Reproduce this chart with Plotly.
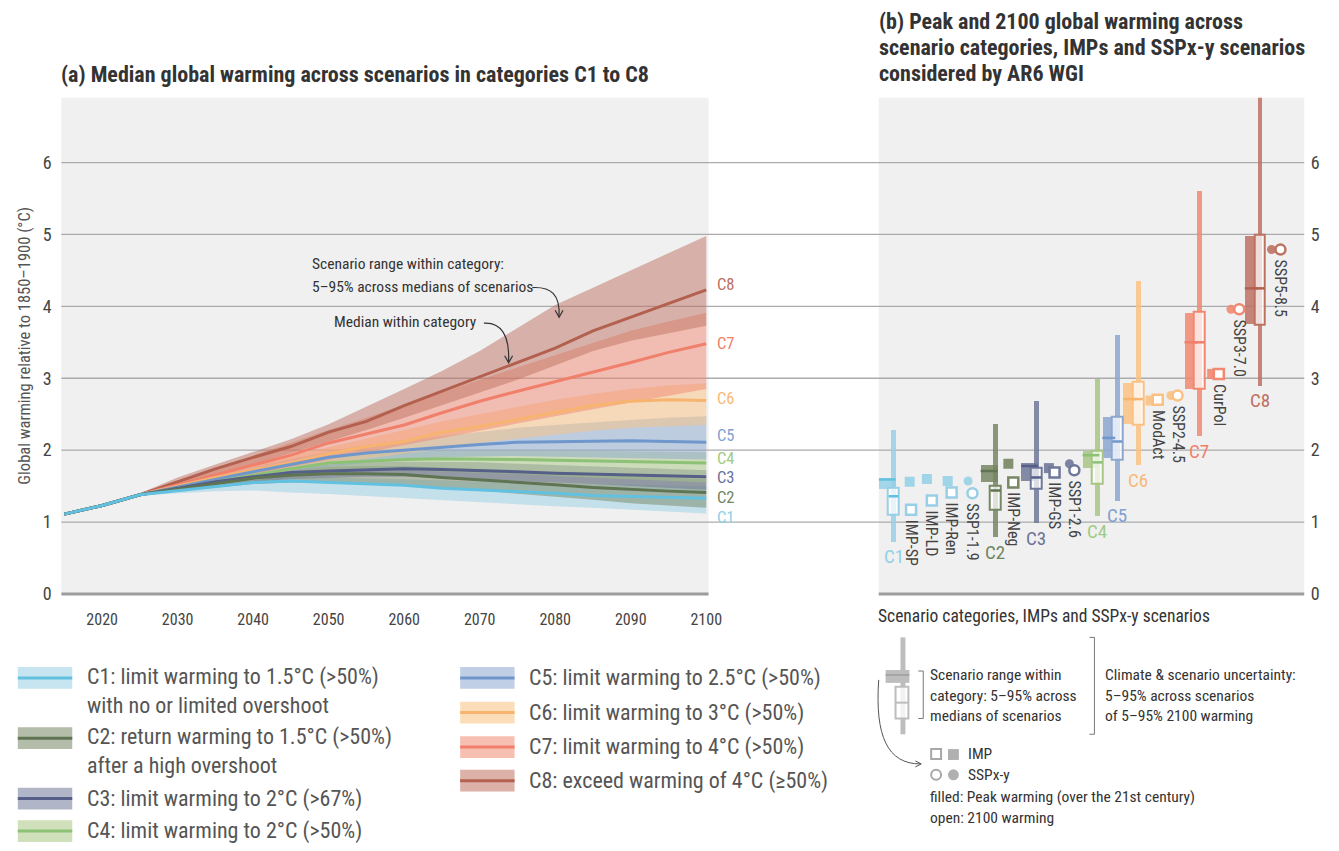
"""Median global warming by scenario category, and peak / 2100 warming ranges."""

import plotly.graph_objects as go

W, H = 1339, 851
FONT = "Roboto Condensed, Liberation Sans Narrow, Roboto, sans-serif"

# ---------------- panel (a): medians and 5-95% ranges per category ----------------
years = [2015, 2020, 2025, 2030, 2035, 2040, 2045, 2050, 2055, 2060,
         2065, 2070, 2075, 2080, 2085, 2090, 2095, 2100]

c1_med = [1.11, 1.23, 1.38, 1.44, 1.50, 1.55, 1.57, 1.55, 1.53, 1.51, 1.47, 1.45, 1.43, 1.40, 1.37, 1.36, 1.35, 1.33]
c1_lo = [1.11, 1.23, 1.37, 1.40, 1.43, 1.44, 1.41, 1.39, 1.37, 1.34, 1.30, 1.27, 1.25, 1.22, 1.20, 1.17, 1.15, 1.12]
c1_hi = [1.11, 1.23, 1.39, 1.47, 1.55, 1.60, 1.62, 1.62, 1.61, 1.60, 1.58, 1.56, 1.55, 1.53, 1.52, 1.51, 1.50, 1.50]

c2_med = [1.11, 1.23, 1.38, 1.46, 1.54, 1.61, 1.65, 1.67, 1.67, 1.66, 1.62, 1.59, 1.55, 1.52, 1.48, 1.45, 1.43, 1.41]
c2_lo = [1.11, 1.23, 1.37, 1.42, 1.48, 1.53, 1.55, 1.56, 1.54, 1.52, 1.48, 1.44, 1.40, 1.35, 1.31, 1.26, 1.23, 1.20]
c2_hi = [1.11, 1.23, 1.39, 1.50, 1.60, 1.68, 1.73, 1.77, 1.78, 1.78, 1.76, 1.74, 1.71, 1.68, 1.66, 1.63, 1.61, 1.60]

c3_med = [1.11, 1.23, 1.38, 1.47, 1.56, 1.63, 1.69, 1.71, 1.73, 1.74, 1.73, 1.72, 1.70, 1.68, 1.67, 1.65, 1.64, 1.63]
c3_lo = [1.11, 1.23, 1.37, 1.43, 1.50, 1.56, 1.60, 1.62, 1.63, 1.63, 1.62, 1.60, 1.58, 1.55, 1.53, 1.50, 1.47, 1.45]
c3_hi = [1.11, 1.23, 1.39, 1.51, 1.61, 1.70, 1.76, 1.80, 1.83, 1.84, 1.84, 1.83, 1.81, 1.79, 1.77, 1.75, 1.73, 1.72]

c4_med = [1.11, 1.23, 1.38, 1.47, 1.57, 1.66, 1.74, 1.82, 1.85, 1.87, 1.88, 1.88, 1.87, 1.86, 1.85, 1.84, 1.83, 1.82]
c4_lo = [1.11, 1.23, 1.37, 1.43, 1.51, 1.58, 1.65, 1.70, 1.72, 1.72, 1.71, 1.69, 1.67, 1.64, 1.62, 1.59, 1.57, 1.55]
c4_hi = [1.11, 1.23, 1.39, 1.51, 1.62, 1.73, 1.83, 1.92, 1.96, 1.98, 1.99, 2.00, 2.00, 1.99, 1.99, 1.98, 1.97, 1.97]

c5_med = [1.11, 1.23, 1.38, 1.49, 1.60, 1.70, 1.80, 1.90, 1.96, 2.00, 2.05, 2.08, 2.11, 2.12, 2.13, 2.13, 2.12, 2.11]
c5_lo = [1.11, 1.23, 1.37, 1.45, 1.54, 1.62, 1.70, 1.78, 1.83, 1.87, 1.90, 1.91, 1.92, 1.91, 1.90, 1.89, 1.88, 1.87]
c5_hi = [1.11, 1.23, 1.39, 1.53, 1.65, 1.77, 1.88, 1.98, 2.07, 2.14, 2.20, 2.26, 2.31, 2.35, 2.39, 2.42, 2.45, 2.47]

c6_med = [1.11, 1.23, 1.38, 1.50, 1.62, 1.72, 1.82, 1.95, 2.05, 2.12, 2.25, 2.33, 2.43, 2.53, 2.62, 2.68, 2.70, 2.69]
c6_lo = [1.11, 1.23, 1.36, 1.45, 1.55, 1.63, 1.72, 1.80, 1.88, 1.95, 2.03, 2.10, 2.16, 2.22, 2.27, 2.31, 2.33, 2.35]
c6_hi = [1.11, 1.23, 1.39, 1.54, 1.68, 1.80, 1.92, 2.05, 2.17, 2.28, 2.40, 2.50, 2.60, 2.70, 2.78, 2.85, 2.90, 2.93]

c7_med = [1.11, 1.23, 1.38, 1.52, 1.66, 1.80, 1.93, 2.10, 2.22, 2.35, 2.52, 2.68, 2.82, 2.95, 3.08, 3.22, 3.36, 3.48]
c7_lo = [1.11, 1.23, 1.37, 1.48, 1.58, 1.68, 1.78, 1.88, 1.98, 2.07, 2.17, 2.27, 2.37, 2.47, 2.57, 2.67, 2.76, 2.85]
c7_hi = [1.11, 1.23, 1.39, 1.57, 1.74, 1.92, 2.10, 2.28, 2.45, 2.62, 2.80, 2.98, 3.15, 3.33, 3.50, 3.66, 3.79, 3.91]

c8_med = [1.11, 1.23, 1.38, 1.56, 1.74, 1.90, 2.05, 2.25, 2.40, 2.62, 2.82, 3.02, 3.22, 3.42, 3.66, 3.85, 4.05, 4.23]
c8_lo = [1.11, 1.23, 1.37, 1.50, 1.66, 1.80, 1.95, 2.12, 2.28, 2.45, 2.62, 2.80, 2.98, 3.18, 3.38, 3.52, 3.63, 3.73]
c8_hi = [1.11, 1.23, 1.40, 1.62, 1.80, 1.97, 2.15, 2.36, 2.60, 2.85, 3.10, 3.38, 3.70, 4.02, 4.26, 4.50, 4.74, 4.98]

categories = ["C1", "C2", "C3", "C4", "C5", "C6", "C7", "C8"]
medians = [c1_med, c2_med, c3_med, c4_med, c5_med, c6_med, c7_med, c8_med]
lows = [c1_lo, c2_lo, c3_lo, c4_lo, c5_lo, c6_lo, c7_lo, c8_lo]
highs = [c1_hi, c2_hi, c3_hi, c4_hi, c5_hi, c6_hi, c7_hi, c8_hi]

legend_text = [
    "C1: limit warming to 1.5°C (>50%)<br>with no or limited overshoot",
    "C2: return warming to 1.5°C (>50%)<br>after a high overshoot",
    "C3: limit warming to 2°C (>67%)",
    "C4: limit warming to 2°C (>50%)",
    "C5: limit warming to 2.5°C (>50%)",
    "C6: limit warming to 3°C (>50%)",
    "C7: limit warming to 4°C (>50%)",
    "C8: exceed warming of 4°C (≥50%)",
]

# ---------------- panel (b): peak and 2100 warming ----------------
whisker_lo = [0.73, 0.79, 0.99, 1.09, 1.30, 1.79, 2.20, 2.90]
whisker_hi = [2.28, 2.37, 2.69, 2.99, 3.61, 4.36, 5.61, 7.40]
peak_lo = [1.46, 1.56, 1.57, 1.75, 1.89, 2.37, 2.85, 3.75]
peak_med = [1.59, 1.71, 1.78, 1.93, 2.17, 2.71, 3.50, 4.25]
peak_hi = [1.62, 1.80, 1.83, 1.99, 2.46, 2.94, 3.91, 4.98]
end_lo = [1.10, 1.17, 1.46, 1.53, 1.86, 2.35, 2.85, 3.74]
end_med = [1.36, 1.44, 1.62, 1.83, 2.12, 2.71, 3.50, 4.25]
end_hi = [1.48, 1.50, 1.75, 1.99, 2.47, 2.95, 3.92, 5.00]

pathways = ["IMP-SP", "IMP-LD", "IMP-Ren", "SSP1-1.9", "IMP-Neg", "IMP-GS",
            "SSP1-2.6", "ModAct", "SSP2-4.5", "CurPol", "SSP3-7.0", "SSP5-8.5"]
pathway_cat = ["C1", "C1", "C1", "C1", "C2", "C3", "C3", "C6", "C6", "C7", "C7", "C8"]
pathway_peak = [1.56, 1.60, 1.57, 1.57, 1.81, 1.75, 1.81, 2.69, 2.76, 3.06, 3.96, 4.79]
pathway_2100 = [1.17, 1.30, 1.41, 1.40, 1.55, 1.69, 1.72, 2.70, 2.76, 3.06, 3.96, 4.79]

# ---------------- styling ----------------
BASE = {"C1": (151, 208, 230), "C2": (119, 134, 99), "C3": (111, 120, 153), "C4": (167, 198, 130),
        "C5": (140, 167, 208), "C6": (250, 193, 130), "C7": (241, 136, 114), "C8": (189, 113, 97)}
LINE = {"C1": "#62c0e0", "C2": "#5f7452", "C3": "#565f88", "C4": "#8cc176",
        "C5": "#6f97cc", "C6": "#f7b46e", "C7": "#f07f6b", "C8": "#b3604f"}
LABEL = {"C1": "#8dd0e8", "C2": "#6f8460", "C3": "#6a7398", "C4": "#9fcb82",
         "C5": "#7f9fd2", "C6": "#f9b878", "C7": "#f0806a", "C8": "#bd6f5f"}


def rgba(cat, a):
    r, g, b = BASE[cat]
    return f"rgba({r},{g},{b},{a})"


def px(x):
    return x / W


def py(y):
    return 1 - y / H


# layout positions for panel (b) (units = pixels from the panel's left edge)
cat_pos = [15, 118, 159, 221, 241, 262, 324, 385]
peak_box_w = [17, 17, 17, 17, 13, 13, 13, 13]
path_open_x = [32.7, 53.7, 73.7, 94.7, 136, 177.7, 197.7, 282, 302, 343.7, 364.3, 406]
path_fill_x = [31.3, 48.7, 69.7, 90.3, 131, 172, 192.7, 274.7, 295.3, 337, 356, 397]
label_y_a = [1.065, 1.34, 1.615, 1.89, 2.20, 2.72, 3.49, 4.30]

fig = go.Figure()

# panel (a) bands then medians
for cat, lo, hi in zip(categories, lows, highs):
    fig.add_trace(go.Scatter(
        x=years + years[::-1], y=hi + lo[::-1], fill="toself",
        fillcolor=rgba(cat, 0.5), line=dict(width=0), mode="lines",
        hoverinfo="skip", showlegend=False,
    ))
for cat, med in reversed(list(zip(categories, medians))):
    fig.add_trace(go.Scatter(
        x=years, y=med, mode="lines", name=cat,
        line=dict(color=LINE[cat], width=3), showlegend=False,
    ))

# panel (b) whiskers and boxes
fig.add_trace(go.Bar(
    x=cat_pos, base=whisker_lo, y=[h - l for l, h in zip(whisker_lo, whisker_hi)],
    width=5, marker=dict(color=[rgba(c, 0.85) for c in categories], line=dict(width=0)),
    xaxis="x2", yaxis="y2", showlegend=False,
))
peak_x = [p - 15 + w / 2 for p, w in zip(cat_pos, peak_box_w)]
fig.add_trace(go.Bar(
    x=peak_x, base=peak_lo, y=[h - l for l, h in zip(peak_lo, peak_hi)],
    width=peak_box_w, marker=dict(color=[rgba(c, 0.85) for c in categories], line=dict(width=0)),
    xaxis="x2", yaxis="y2", showlegend=False,
))
fig.add_trace(go.Bar(
    x=cat_pos, base=end_lo, y=[h - l for l, h in zip(end_lo, end_hi)],
    width=11, marker=dict(color="rgba(255,255,255,0.72)",
                          line=dict(color=[rgba(c, 1) for c in categories], width=2)),
    xaxis="x2", yaxis="y2", showlegend=False,
))
for i, cat in enumerate(categories):
    x0 = cat_pos[i] - 15
    x1 = x0 + peak_box_w[i]
    fig.add_trace(go.Scatter(
        x=[x0, x1, None, cat_pos[i] - 5, cat_pos[i] + 5],
        y=[peak_med[i], peak_med[i], None, end_med[i], end_med[i]],
        mode="lines", line=dict(color=LINE[cat], width=2.5),
        xaxis="x2", yaxis="y2", showlegend=False, hoverinfo="skip",
    ))

# IMP / SSP markers
for i, name in enumerate(pathways):
    cat = pathway_cat[i]
    sym = "circle" if name.startswith("SSP") else "square"
    fig.add_trace(go.Scatter(
        x=[path_fill_x[i]], y=[pathway_peak[i]], mode="markers",
        marker=dict(symbol=sym, size=10 if sym == "square" else 9, color=rgba(cat, 0.9)),
        xaxis="x2", yaxis="y2", showlegend=False,
    ))
    fig.add_trace(go.Scatter(
        x=[path_open_x[i]], y=[pathway_2100[i]], mode="markers",
        marker=dict(symbol=sym, size=10, color="white", line=dict(color=rgba(cat, 1), width=2.5)),
        xaxis="x2", yaxis="y2", showlegend=False,
    ))

# ---------------- shapes ----------------
shapes = []
for x0, x1 in ((62, 716), (888, 1318)):
    shapes.append(dict(type="rect", xref="paper", yref="paper", x0=px(x0), x1=px(x1),
                       y0=py(601), y1=py(99), fillcolor="#f0f0f0", line=dict(width=0), layer="below"))
for v in range(1, 7):
    shapes.append(dict(type="line", xref="paper", yref="y", x0=px(62), x1=px(1318), y0=v, y1=v,
                       line=dict(color="#ababab", width=1.3), layer="below"))
for x0, x1 in ((62, 716), (888, 1318)):
    shapes.append(dict(type="line", xref="paper", yref="paper", x0=px(x0), x1=px(x1),
                       y0=py(601), y1=py(601), line=dict(color="#9c9c9c", width=3)))


def path(points):
    return "M " + " L ".join(f"{px(x)},{py(y)}" for x, y in points)


def curve(p0, c1, c2, p1):
    return (f"M {px(p0[0])},{py(p0[1])} C {px(c1[0])},{py(c1[1])} "
            f"{px(c2[0])},{py(c2[1])} {px(p1[0])},{py(p1[1])}")


arrow_style = dict(color="#333", width=1.2)
shapes += [
    dict(type="path", xref="paper", yref="paper", path=curve((538, 291), (557, 290), (566, 298), (565, 320)), line=arrow_style),
    dict(type="path", xref="paper", yref="paper", path=path([(561, 314), (565, 321), (569, 314)]), line=arrow_style),
    dict(type="path", xref="paper", yref="paper", path=curve((489, 327), (507, 326), (515, 340), (514, 366)), line=arrow_style),
    dict(type="path", xref="paper", yref="paper", path=path([(510, 360), (514, 367), (518, 360)]), line=arrow_style),
]

# legend swatches (panel a)
swatch_rows = [(18, 686), (18, 747), (18, 808), (18, 841), (465, 686), (465, 721), (465, 756), (465, 790)]
for cat, (sx, sy) in zip(categories, swatch_rows):
    shapes.append(dict(type="rect", xref="paper", yref="paper", x0=px(sx), x1=px(sx + 55),
                       y0=py(sy + 11), y1=py(sy - 11), fillcolor=rgba(cat, 0.55), line=dict(width=0)))
    shapes.append(dict(type="line", xref="paper", yref="paper", x0=px(sx), x1=px(sx + 55),
                       y0=py(sy), y1=py(sy), line=dict(color=LINE[cat], width=3)))

# schematic key (panel b)
g = "#bdbdbd"
shapes += [
    dict(type="rect", xref="paper", yref="paper", x0=px(910), x1=px(915), y0=py(743), y1=py(645), fillcolor=g, line=dict(width=0)),
    dict(type="rect", xref="paper", yref="paper", x0=px(895), x1=px(919), y0=py(691), y1=py(678), fillcolor=g, line=dict(width=0)),
    dict(type="line", xref="paper", yref="paper", x0=px(895), x1=px(919), y0=py(683), y1=py(683), line=dict(color="#a5a5a5", width=2)),
    dict(type="rect", xref="paper", yref="paper", x0=px(905), x1=px(918), y0=py(727), y1=py(695), fillcolor="rgba(255,255,255,0.8)", line=dict(color=g, width=2)),
    dict(type="line", xref="paper", yref="paper", x0=px(905), x1=px(918), y0=py(711), y1=py(711), line=dict(color=g, width=2)),
    dict(type="path", xref="paper", yref="paper", path=path([(928, 679), (933, 679), (933, 727), (928, 727)]), line=dict(color="#777", width=1)),
    dict(type="path", xref="paper", yref="paper", path=path([(1101, 645), (1106, 645), (1106, 743), (1101, 743)]), line=dict(color="#777", width=1)),
    dict(type="path", xref="paper", yref="paper", path=curve((888, 688), (884, 745), (897, 773), (930, 773)), line=dict(color="#555", width=1)),
    dict(type="path", xref="paper", yref="paper", path=path([(925, 770), (931, 773), (925, 776)]), line=dict(color="#555", width=1)),
    dict(type="rect", xref="paper", yref="paper", x0=px(941), x1=px(951), y0=py(768), y1=py(758), fillcolor="white", line=dict(color="#a8a8a8", width=2)),
    dict(type="rect", xref="paper", yref="paper", x0=px(958), x1=px(969), y0=py(769), y1=py(758), fillcolor="#b0b0b0", line=dict(width=0)),
    dict(type="circle", xref="paper", yref="paper", x0=px(941), x1=px(951), y0=py(789), y1=py(779), fillcolor="white", line=dict(color="#a8a8a8", width=2)),
    dict(type="circle", xref="paper", yref="paper", x0=px(958), x1=px(969), y0=py(789.5), y1=py(778.5), fillcolor="#b0b0b0", line=dict(width=0)),
]

# ---------------- annotations ----------------
ann = []


def text(x, y, s, size=15, color="#444", xanchor="left", yanchor="middle", **kw):
    ann.append(dict(x=px(x), y=py(y), xref="paper", yref="paper", text=s, showarrow=False,
                    xanchor=xanchor, yanchor=yanchor, align="left",
                    font=dict(family=FONT, size=size, color=color), **kw))


text(60, 75, "<b>(a) Median global warming across scenarios in categories C1 to C8</b>", size=22, color="#333")
text(886, 22, "<b>(b) Peak and 2100 global warming across</b>", size=22, color="#333")
text(886, 48, "<b>scenario categories, IMPs and SSPx-y scenarios</b>", size=22, color="#333")
text(886, 74, "<b>considered by AR6 WGI</b>", size=22, color="#333")

text(313, 267, "Scenario range within category:", size=15.5, color="#333")
text(313, 290, "5–95% across medians of scenarios", size=15.5, color="#333")
text(336, 326, "Median within category", size=15.5, color="#333")

for cat, ly in zip(categories, label_y_a):
    ann.append(dict(x=px(724), y=ly, xref="paper", yref="y", text=cat, showarrow=False,
                    xanchor="left", yanchor="middle", borderpad=0,
                    font=dict(family=FONT, size=16.5, color=LABEL[cat])))

for i, cat in enumerate(categories):
    ann.append(dict(x=cat_pos[i], y=max(whisker_lo[i], 0), xref="x2", yref="y2", text=cat,
                    showarrow=False, xanchor="center", yanchor="top", yshift=-2,
                    font=dict(family=FONT, size=19, color=LABEL[cat])))

for i, name in enumerate(pathways):
    ann.append(dict(x=path_open_x[i], y=pathway_2100[i], xref="x2", yref="y2", text=name,
                    showarrow=False, xanchor="center", yanchor="top", yshift=-8, textangle=90,
                    font=dict(family=FONT, size=16, color="#444")))

for sx, sy, lab in zip([86] * 4 + [533] * 4, [686, 747, 808, 841, 686, 721, 756, 790], legend_text):
    y = sy + (13 if "<br>" in lab else 0)
    ann.append(dict(x=px(sx), y=py(y), xref="paper", yref="paper", text=lab, showarrow=False,
                    xanchor="left", yanchor="middle", align="left",
                    font=dict(family=FONT, size=22, color="#555")))

text(885, 623, "Scenario categories, IMPs and SSPx-y scenarios", size=17.5, color="#333")
for i, s in enumerate(["Scenario range within", "category: 5–95% across", "medians of scenarios"]):
    text(938, 683 + 21 * i, s, size=15.5, color="#333")
for i, s in enumerate(["Climate & scenario uncertainty:", "5–95% across scenarios", "of 5–95% 2100 warming"]):
    text(1115, 683 + 21 * i, s, size=15.5, color="#333")
text(976, 763, "IMP", size=15.5, color="#333")
text(976, 784, "SSPx-y", size=15.5, color="#333")
text(938, 806, "filled: Peak warming (over the 21st century)", size=15.5, color="#333")
text(938, 828, "open: 2100 warming", size=15.5, color="#333")

# ---------------- layout ----------------
tick_font = dict(family=FONT, size=18, color="#444")
fig.update_layout(
    width=W, height=H, autosize=False,
    margin=dict(l=0, r=0, t=0, b=0),
    paper_bgcolor="white", plot_bgcolor="rgba(0,0,0,0)",
    barmode="overlay", bargap=0,
    font=dict(family=FONT, color="#444"),
    showlegend=False,
    xaxis=dict(domain=[px(62), px(716)], range=[2014.6, 2100.3], anchor="y",
               tickvals=list(range(2020, 2101, 10)), showgrid=False, zeroline=False,
               ticks="outside", ticklen=11, tickcolor="rgba(0,0,0,0)",
               tickfont=dict(family=FONT, size=16, color="#444")),
    yaxis=dict(domain=[py(601), py(99)], range=[0, 6.9], anchor="x",
               tickvals=list(range(0, 7)), showgrid=False, zeroline=False,
               ticks="outside", ticklen=5, tickcolor="rgba(0,0,0,0)", tickfont=tick_font,
               title=dict(text="Global warming relative to 1850–1900 (°C)", standoff=8,
                          font=dict(family=FONT, size=16.5, color="#555"))),
    xaxis2=dict(domain=[px(888), px(1318)], range=[0, 430], anchor="y2", visible=False),
    yaxis2=dict(domain=[py(601), py(99)], range=[0, 6.9], anchor="x2", side="right",
                tickvals=list(range(0, 7)), showgrid=False, zeroline=False,
                ticks="outside", ticklen=2, tickcolor="rgba(0,0,0,0)", tickfont=tick_font),
    shapes=shapes,
    annotations=ann,
)

fig.write_html(
    "out.html",
    config={"displayModeBar": False},
    post_script=("document.body.style.margin='0';"
                 "document.documentElement.style.overflow='hidden';"
                 "document.body.style.overflow='hidden';"),
)
